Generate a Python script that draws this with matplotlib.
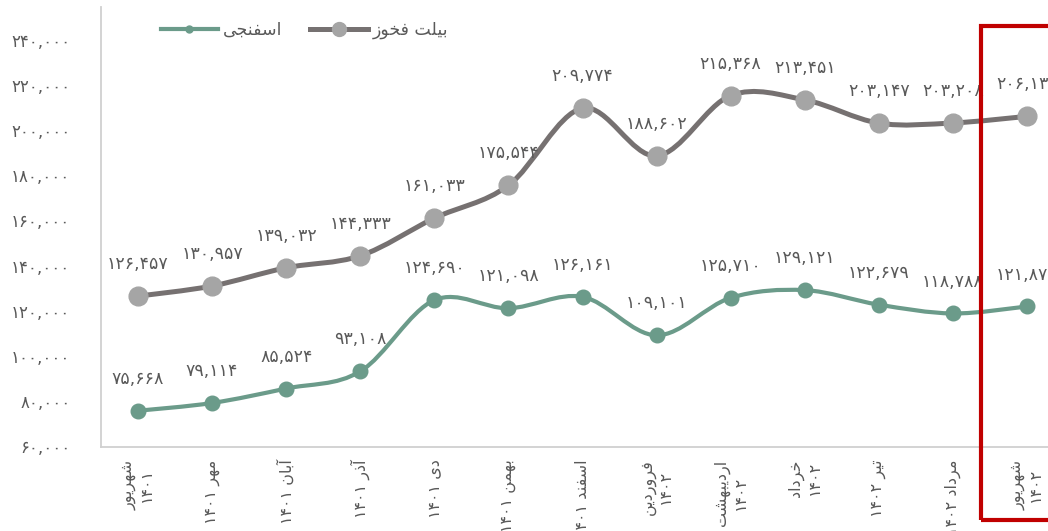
import matplotlib
matplotlib.use("Agg")
import matplotlib.pyplot as plt
import numpy as np
from matplotlib.path import Path
from matplotlib.patches import PathPatch, Rectangle
from matplotlib.lines import Line2D

# ---------------- data ----------------
categories = ["شهریور\n۱۴۰۱", "مهر ۱۴۰۱", "آبان ۱۴۰۱", "آذر ۱۴۰۱", "دی ۱۴۰۱",
              "بهمن ۱۴۰۱", "اسفند ۱۴۰۱", "فروردین\n۱۴۰۲", "اردیبهشت\n۱۴۰۲",
              "خرداد\n۱۴۰۲", "تیر ۱۴۰۲", "مرداد ۱۴۰۲", "شهریور\n۱۴۰۲"]
series_grey_name = "بیلت فخوز"
series_green_name = "اسفنجی"
grey_values = [126457, 130957, 139032, 144333, 161033, 175544, 209774,
               188602, 215368, 213451, 203147, 203208, 206136]
green_values = [75668, 79114, 85524, 93108, 124690, 121098, 126161,
                109101, 125710, 129121, 122679, 118788, 121874]
yticks = [60000, 80000, 100000, 120000, 140000, 160000, 180000, 200000, 220000, 240000]

# ---------------- Persian shaping helpers ----------------
FORMS = {
    'ا': ('\uFE8D', '\uFE8E', None, None),
    'آ': ('\uFE81', '\uFE82', None, None),
    'ب': ('\uFE8F', '\uFE90', '\uFE91', '\uFE92'),
    'ت': ('\uFE95', '\uFE96', '\uFE97', '\uFE98'),
    'ج': ('\uFE9D', '\uFE9E', '\uFE9F', '\uFEA0'),
    'خ': ('\uFEA5', '\uFEA6', '\uFEA7', '\uFEA8'),
    'د': ('\uFEA9', '\uFEAA', None, None),
    'ذ': ('\uFEAB', '\uFEAC', None, None),
    'ر': ('\uFEAD', '\uFEAE', None, None),
    'ز': ('\uFEAF', '\uFEB0', None, None),
    'س': ('\uFEB1', '\uFEB2', '\uFEB3', '\uFEB4'),
    'ش': ('\uFEB5', '\uFEB6', '\uFEB7', '\uFEB8'),
    'ف': ('\uFED1', '\uFED2', '\uFED3', '\uFED4'),
    'ل': ('\uFEDD', '\uFEDE', '\uFEDF', '\uFEE0'),
    'م': ('\uFEE1', '\uFEE2', '\uFEE3', '\uFEE4'),
    'ن': ('\uFEE5', '\uFEE6', '\uFEE7', '\uFEE8'),
    'ه': ('\uFEE9', '\uFEEA', '\uFEEB', '\uFEEC'),
    'و': ('\uFEED', '\uFEEE', None, None),
    'ی': ('\uFEEF', '\uFEF0', '\uFEF3', '\uFEF4'),
}


def shape_word(w):
    out = []
    for i, ch in enumerate(w):
        if ch not in FORMS:
            out.append(ch)
            continue
        prev = w[i - 1] if i > 0 else None
        nxt = w[i + 1] if i + 1 < len(w) else None
        f = FORMS[ch]
        prev_j = prev in FORMS and FORMS[prev][2] is not None
        next_j = f[2] is not None and nxt in FORMS
        if prev_j and next_j:
            out.append(f[3])
        elif prev_j:
            out.append(f[1])
        elif next_j:
            out.append(f[2])
        else:
            out.append(f[0])
    return ''.join(out)


def visual_line(line):
    words = line.split(' ')
    vis = []
    for w in words:
        if any(c in FORMS for c in w):
            vis.append(shape_word(w)[::-1])
        else:
            vis.append(w)
    return ' '.join(vis[::-1])


def visual(s):
    return '\n'.join(visual_line(l) for l in s.split('\n'))


PDIG = str.maketrans('0123456789', '۰۱۲۳۴۵۶۷۸۹')


def pnum(v):
    return f"{v:,}".translate(PDIG)


# ---------------- figure ----------------
plt.rcParams['font.family'] = ['DejaVu Sans']
W, H = 1048, 531
fig = plt.figure(figsize=(W / 100, H / 100), dpi=100)
ax = fig.add_axes([101 / W, (H - 447) / H, (1064 - 101) / W, (447 - 7) / H])

TXT = '#595959'
GREY_LINE = '#767171'
GREY_MK = '#A5A5A5'
GREEN = '#6B9B8A'

x = np.arange(len(categories))


def smooth_path(xs, ys):
    P = np.column_stack([xs, ys]).astype(float)
    n = len(P)
    verts = [P[0]]
    codes = [Path.MOVETO]
    for i in range(n - 1):
        p0 = P[i - 1] if i > 0 else P[i]
        p1 = P[i]
        p2 = P[i + 1]
        p3 = P[i + 2] if i + 2 < n else P[i + 1]
        c1 = p1 + (p2 - p0) / 6.0
        c2 = p2 - (p3 - p1) / 6.0
        verts += [c1, c2, p2]
        codes += [Path.CURVE4] * 3
    return Path(verts, codes)


ax.add_patch(PathPatch(smooth_path(x, grey_values), fill=False, edgecolor=GREY_LINE,
                       lw=3.6, capstyle='round', joinstyle='round', zorder=2))
ax.plot(x, grey_values, 'o', ms=13.5, color=GREY_MK, mec=GREY_MK, zorder=3)
ax.add_patch(PathPatch(smooth_path(x, green_values), fill=False, edgecolor=GREEN,
                       lw=3.0, capstyle='round', joinstyle='round', zorder=2))
ax.plot(x, green_values, 'o', ms=10.5, color=GREEN, mec=GREEN, zorder=3)

for xi, v in zip(x, grey_values):
    ax.annotate(pnum(v), (xi, v), xytext=(0, 23), textcoords='offset points',
                ha='center', va='center', fontsize=12.5, color=TXT, zorder=4)
for xi, v in zip(x, green_values):
    ax.annotate(pnum(v), (xi, v), xytext=(0, 23), textcoords='offset points',
                ha='center', va='center', fontsize=12.5, color=TXT, zorder=4)

ax.set_xlim(-0.5, len(categories) - 0.5)
ax.set_ylim(59600, 254600)
ax.set_yticks(yticks)
ax.set_yticklabels([pnum(v) for v in yticks], fontsize=12, color=TXT)
ax.set_xticks(x)
ax.set_xticklabels([visual(c) for c in categories], rotation=90, fontsize=11.5,
                   color=TXT, multialignment='center')
ax.tick_params(axis='both', length=0)
ax.tick_params(axis='y', pad=22)
ax.tick_params(axis='x', pad=9)
for s in ['top', 'right']:
    ax.spines[s].set_visible(False)
for s in ['left', 'bottom']:
    ax.spines[s].set_color('#D0D0D0')
    ax.spines[s].set_linewidth(1.3)

handles = [Line2D([], [], color=GREEN, lw=3.0, marker='o', ms=5, mfc=GREEN, mec=GREEN),
           Line2D([], [], color=GREY_LINE, lw=3.6, marker='o', ms=10, mfc=GREY_MK, mec=GREY_MK)]
leg = fig.legend(handles, [visual(series_green_name), visual(series_grey_name)],
                 loc='center left', bbox_to_anchor=(145 / W, (H - 30) / H), ncol=2,
                 frameon=False, fontsize=12.5, handlelength=3.3, columnspacing=1.6,
                 handletextpad=0.3, labelcolor=TXT)

fig.patches.append(Rectangle((981 / W, (H - 520) / H), 100 / W, (520 - 26) / H,
                             transform=fig.transFigure, fill=False, edgecolor='#C00000',
                             lw=3.0, zorder=10))

fig.savefig('out.png', dpi=100)
